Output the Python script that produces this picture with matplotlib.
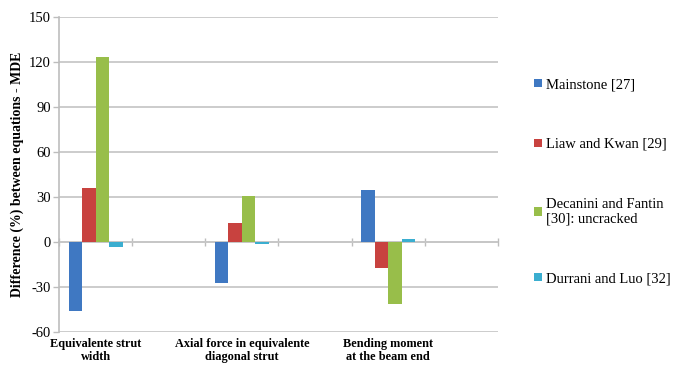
import numpy as np
import matplotlib.pyplot as plt
from matplotlib.patches import Patch

plt.rcParams['font.family'] = ['Liberation Serif', 'DejaVu Serif']
plt.rcParams['axes.unicode_minus'] = False

# six category slots, only every second one carries a label
categories = ["Equivalente strut\nwidth", "",
              "Axial force in equivalente\ndiagonal strut", "",
              "Bending moment\nat the beam end", ""]
series = ["Mainstone [27]", "Liaw and Kwan [29]",
          "Decanini and Fantin\n[30]: uncracked", "Durrani and Luo [32]"]
mainstone = [-46, 0, -27, 0, 35, 0]
liaw_kwan = [36, 0, 13, 0, -17, 0]
decanini = [123, 0, 31, 0, -41.5, 0]
durrani = [-3.3, 0, -1, 0, 1.8, 0]
values = [mainstone, liaw_kwan, decanini, durrani]
colors = ["#3F78C2", "#C8423F", "#98BE4A", "#3BAED0"]
yticks = [-60, -30, 0, 30, 60, 90, 120, 150]

fig = plt.figure(figsize=(6.75, 3.65), dpi=100)
ax = fig.add_axes([59 / 675, 1 - 332 / 365, (498 - 59) / 675, (332 - 17) / 365])

x = np.arange(len(categories))
w = 0.184
for i, (vals, c) in enumerate(zip(values, colors)):
    ax.bar(x + (i - 1.5) * w, vals, width=w, color=c, zorder=3)

ax.set_xlim(-0.5, len(categories) - 0.5)
ax.set_ylim(-60, 150)
ax.set_yticks(yticks)
ax.tick_params(axis='y', length=4, width=1, color="#BDBDBD", labelsize=10.5, pad=2)
ax.yaxis.grid(True, color="#C8C8C8", linewidth=1.3, zorder=0)

for s in ["top", "right", "bottom"]:
    ax.spines[s].set_visible(False)
ax.spines["left"].set_color("#BDBDBD")
ax.spines["left"].set_linewidth(1.2)

# category labels under the plot
ax.set_xticks([])
for xi, lab in zip(x, categories):
    if lab:
        ax.text(xi, -0.018, lab, transform=ax.get_xaxis_transform(),
                ha="center", va="top", fontsize=8.8, fontweight="bold",
                linespacing=1.1)

# zero axis with tick marks between categories
zero_pos = (0 - (-60)) / (150 - (-60))
sec = ax.secondary_xaxis(zero_pos)
sec.set_xticks(np.arange(-0.5, len(categories), 1.0))
sec.set_xticklabels([])
sec.tick_params(direction="inout", length=6, width=1, color="#BDBDBD")
sec.spines["bottom"].set_color("#BDBDBD")
sec.spines["bottom"].set_linewidth(1.3)

ax.set_ylabel("Difference (%) between equations - MDE", fontsize=10,
              fontweight="bold", labelpad=3)

handles = [Patch(facecolor=c, edgecolor="none") for c in colors]
fig.legend(handles, series, loc="upper left", bbox_to_anchor=(527 / 675, 1 - 71 / 365),
           frameon=False, fontsize=10.5, handlelength=0.5, handleheight=0.5,
           handletextpad=0.3, labelspacing=3.2, borderpad=0)

fig.savefig("out.png", dpi=100)
